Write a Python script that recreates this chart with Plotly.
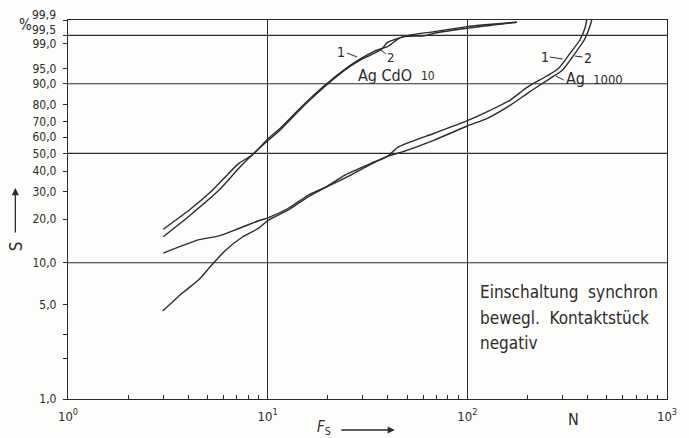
import numpy as np
import plotly.graph_objects as go

# --- data -----------------------------------------------------------------
# switching count F_S (log axis) vs. cumulative failure share S in % (Weibull paper)
agcdo_1_x = [3.0, 4.05, 5.09, 5.93, 7.17, 8.35, 10.1, 11.3, 15.4, 19.4, 25.3, 29.5, 34.3, 40.0, 45.5, 52.0, 68.3, 100, 177]
agcdo_1_y = [17.1, 23.0, 29.4, 35.5, 44.2, 49.0, 59.3, 64.5, 80.7, 89.5, 95.4, 97.2, 98.25, 98.75, 99.35, 99.52, 99.65, 99.79, 99.87]

agcdo_2_x = [3.0, 4.05, 5.71, 7.17, 8.35, 10.1, 11.3, 15.4, 19.4, 25.3, 29.5, 36.9, 40.0, 48.4, 60.9, 68.3, 100, 177]
agcdo_2_y = [15.2, 21.0, 30.8, 41.5, 49.0, 58.2, 63.5, 80.0, 89.0, 95.2, 97.0, 98.4, 99.1, 99.44, 99.48, 99.59, 99.75, 99.87]

ag1000_1_x = [3.0, 4.54, 5.71, 7.17, 9.02, 10.1, 12.7, 16.0, 19.4, 24.4, 32.9, 40.0, 44.9, 68.3, 100, 126, 164, 199, 250, 286, 327, 366, 388, 396]
ag1000_1_y = [11.7, 14.5, 15.4, 17.3, 19.5, 20.5, 23.6, 28.7, 32.0, 37.9, 44.2, 48.4, 53.7, 62.5, 70.4, 75.9, 82.4, 88.5, 92.8, 95.0, 97.95, 99.25, 99.75, 99.9]

ag1000_2_x = [2.98, 3.74, 4.54, 5.2, 6.18, 7.42, 9.02, 10.1, 12.7, 16.0, 20.0, 25.0, 33.0, 40.0, 46.4, 68.3, 100, 126, 165, 205, 260, 300, 345, 385, 408, 420]
ag1000_2_y = [4.47, 6.05, 7.6, 9.5, 12.3, 15.0, 17.4, 19.7, 23.0, 28.0, 32.5, 37.0, 43.8, 48.4, 50.6, 58.2, 67.1, 71.9, 79.8, 86.5, 92.0, 94.6, 97.9, 99.25, 99.75, 99.9]

# probability axis ticks (%), labels in German decimal notation
y_tick_vals = [1.0, 2.0, 3.0, 5.0, 10.0, 20.0, 30.0, 40.0, 50.0, 60.0, 70.0, 80.0, 90.0, 95.0, 99.0, 99.5, 99.9]
y_tick_text = ["1,0", "", "", "5,0", "10,0", "20,0", "30,0", "40,0", "50,0", "60,0", "70,0", "80,0", "90,0", "95,0", "99,0", "", ""]
y_top_labels = {99.5: "99,5", 99.9: "99,9"}
y_grid = [10.0, 50.0, 90.0, 99.5]

x_tick_vals = [1, 10, 100, 1000]
x_tick_text = ["10<sup>0</sup>", "10<sup>1</sup>", "10<sup>2</sup>", "10<sup>3</sup>"]
x_minor = [m * d for d in (1, 10, 100) for m in range(2, 10)]


def weib(p):
    """Weibull probability transform ln(-ln(1-F))."""
    return np.log(-np.log(1.0 - np.asarray(p, dtype=float) / 100.0))


INK = "#2b2b2b"
FONT = "DejaVu Sans Condensed, DejaVu Sans, sans-serif"
W_PX, H_PX = 689, 438
ML, MR, MT, MB = 68, 18, 20, 39
PW, PH = W_PX - ML - MR, H_PX - MT - MB


def fx(xp):
    return (xp - ML) / PW


def fy(yp):
    return (PH + MT - yp) / PH


fig = go.Figure()
line_style = dict(color=INK, width=1.4, shape="spline", smoothing=0.6)
for xs, ys, nm in [
    (agcdo_1_x, agcdo_1_y, "Ag CdO 10 (1)"),
    (agcdo_2_x, agcdo_2_y, "Ag CdO 10 (2)"),
    (ag1000_1_x, ag1000_1_y, "Ag 1000 (1)"),
    (ag1000_2_x, ag1000_2_y, "Ag 1000 (2)"),
]:
    fig.add_trace(go.Scatter(x=xs, y=weib(ys), mode="lines", line=line_style, name=nm,
                             showlegend=False, hoverinfo="skip"))

shapes = []
for g in y_grid:
    shapes.append(dict(type="line", xref="paper", x0=0, x1=1, yref="y", y0=float(weib(g)), y1=float(weib(g)),
                       line=dict(color=INK, width=1.1), layer="below"))


def seg(x0, y0, x1, y1):
    shapes.append(dict(type="line", xref="paper", yref="paper", x0=fx(x0), y0=fy(y0), x1=fx(x1), y1=fy(y1),
                       line=dict(color=INK, width=1)))


# leader strokes for the curve numbers
seg(349, 53, 359, 57)
seg(388, 54, 383, 50)
seg(553, 57, 566, 59)
seg(578, 56, 586, 57)
seg(559, 76, 567, 80)

ann = []


def text(xp, yp, s, size=13, xanchor="center", **kw):
    d = dict(xref="paper", yref="paper", x=fx(xp), y=fy(yp), text=s, showarrow=False,
             xanchor=xanchor, yanchor="middle",
             font=dict(family=FONT, size=size, color=INK))
    d.update(kw)
    ann.append(d)


for v, s in y_top_labels.items():
    ann.append(dict(xref="paper", yref="y", x=0, y=float(weib(v)), xanchor="right", yanchor="middle",
                    xshift=-10, yshift=5, text=s, showarrow=False,
                    font=dict(family=FONT, size=12, color=INK)))

text(25, 25, "%", size=15)
text(16, 246, "S", size=17, textangle=-90)
ann.append(dict(xref="paper", yref="paper", x=fx(15), y=fy(188), ax=0, ay=46, text="",
                showarrow=True, arrowhead=2, arrowsize=1.1, arrowwidth=1.3, arrowcolor=INK))
text(317, 427, "<i>F</i><sub>S</sub>", size=15, xanchor="left")
ann.append(dict(xref="paper", yref="paper", x=fx(397), y=fy(430), ax=-55, ay=0, text="",
                showarrow=True, arrowhead=2, arrowsize=1.1, arrowwidth=1.3, arrowcolor=INK))
text(577, 419, "N", size=16)

text(343, 52, "1", size=14)
text(393, 57, "2", size=13)
text(358, 75, "Ag CdO", size=16, xanchor="left")
text(421, 76, "10", size=12, xanchor="left")
text(548, 57, "1", size=14)
text(591, 58, "2", size=14)
text(567, 78, "Ag", size=16, xanchor="left")
text(594, 79, "1000", size=13, xanchor="left")

for yp, s in [(292, "Einschaltung  synchron"), (318, "bewegl.  Kontaktstück"), (343, "negativ")]:
    text(481, yp, s, size=17, xanchor="left")

fig.update_layout(
    width=W_PX, height=H_PX,
    margin=dict(l=ML, r=MR, t=MT, b=MB),
    paper_bgcolor="#fdfdfb", plot_bgcolor="#fdfdfb",
    font=dict(family=FONT, size=12, color=INK),
    shapes=shapes, annotations=ann,
    xaxis=dict(type="log", range=[0, 3], tickmode="array", tickvals=x_tick_vals, ticktext=x_tick_text,
               showgrid=True, gridcolor=INK, gridwidth=1.1, ticks="", showline=True, mirror=True,
               linecolor=INK, linewidth=1.3, zeroline=False, tickfont=dict(size=13),
               ticklabelstandoff=5,
               minor=dict(tickmode="array", tickvals=x_minor, ticks="inside", ticklen=4,
                          tickcolor=INK, tickwidth=1, showgrid=False)),
    yaxis=dict(range=[float(weib(1.0)), float(weib(99.9))], tickmode="array",
               tickvals=[float(v) for v in weib(y_tick_vals)], ticktext=y_tick_text,
               ticks="outside", ticklen=4, tickcolor=INK, tickwidth=1, showgrid=False,
               showline=True, mirror=True, linecolor=INK, linewidth=1.3, zeroline=False,
               tickfont=dict(size=12), ticklabelstandoff=4),
)

fig.write_html("out.html")
